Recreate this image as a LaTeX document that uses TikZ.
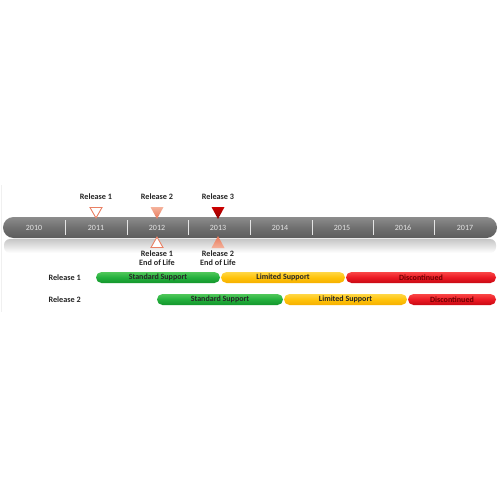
\documentclass[tikz,border=0pt]{standalone}
\usepackage{fontspec}
\setmainfont{Carlito}
\begin{document}
\begin{tikzpicture}[x=1pt,y=-1pt,
  lbl/.style={font=\bfseries\fontsize{8.2}{8.8}\selectfont, text=black!85, inner sep=0pt, align=center},
  yr/.style={font=\fontsize{8}{9}\selectfont, text=white!90!black, inner sep=0pt},
  seg/.style={font=\bfseries\fontsize{8}{8.5}\selectfont, inner sep=0pt},
  sep/.style={draw=white!80!gray, line width=0.6pt},
  greenbar/.style={top color={rgb,255:red,80;green,200;blue,90}, bottom color={rgb,255:red,20;green,150;blue,45}, middle color={rgb,255:red,35;green,175;blue,60}},
  yellowbar/.style={top color={rgb,255:red,255;green,215;blue,70}, bottom color={rgb,255:red,245;green,175;blue,0}, middle color={rgb,255:red,255;green,195;blue,10}},
  redbar/.style={top color={rgb,255:red,250;green,70;blue,70}, bottom color={rgb,255:red,200;green,10;blue,20}, middle color={rgb,255:red,235;green,25;blue,35}},
]
\definecolor{salmonL}{RGB}{245,178,155}
\definecolor{salmonD}{RGB}{230,120,90}
\definecolor{salmonE}{RGB}{233,128,100}
\definecolor{darkred}{RGB}{110,0,0}
\definecolor{barT}{RGB}{140,140,140}
\definecolor{barM}{RGB}{112,112,112}
\definecolor{barB}{RGB}{92,92,92}
\useasboundingbox[fill=white] (0,0) rectangle (500,500);
% faint frame line
\draw[gray!12, line width=0.6pt] (1,185) -- (1,312);
% reflection
\shade[top color=gray!45, bottom color=white, rounded corners=6pt] (4,239) rectangle (496,253);
% bar
\shade[top color=barT, bottom color=barB, middle color=barM, rounded corners=10.5pt] (3,217) rectangle (497,238);
\foreach \x in {65,127,188,250,312,373,434} \draw[sep] (\x,220) -- (\x,235);
\foreach \x/\y in {34/2010,96/2011,157/2012,218/2013,280/2014,342/2015,403/2016,465/2017}
  \node[yr] (y\y) at (\x,228) {\y};
% top markers
\node[lbl] (r1) at (96,197) {Release 1};
\node[lbl] (r2) at (157,197) {Release 2};
\node[lbl] (r3) at (218,197) {Release 3};
\draw[salmonE, line width=0.9pt, fill=white, line join=miter] (90,207.5) -- (102,207.5) -- (96,218) -- cycle;
\shade[top color=salmonL, bottom color=salmonD] (150.5,207) -- (163.5,207) -- (157,219) -- cycle;
\shade[top color=red!80!black, bottom color=red!55!black] (211.5,207) -- (224.5,207) -- (218,219) -- cycle;
% bottom markers
\draw[salmonE, line width=0.9pt, fill=white, line join=miter] (157,237) -- (163,247.5) -- (151,247.5) -- cycle;
\shade[top color=salmonD, bottom color=salmonL] (218,236) -- (224.5,248) -- (211.5,248) -- cycle;
\node[lbl] (e1) at (157,258) {Release 1\\End of Life};
\node[lbl] (e2) at (218,258) {Release 2\\End of Life};
% rows
\node[lbl, anchor=east] (row1) at (81,277.5) {Release 1};
\node[lbl, anchor=east] (row2) at (81,299.5) {Release 2};
% release 1 bars
\shade[greenbar, rounded corners=5.5pt] (96,272) rectangle (220,283);
\shade[yellowbar, rounded corners=5.5pt] (221,272) rectangle (345,283);
\shade[redbar, rounded corners=5.5pt] (346,272) rectangle (496,283);
\node[seg, text=black!85] (s1) at (158,277.5) {Standard Support};
\node[seg, text=black!85] (l1) at (283,277.5) {Limited Support};
\node[seg, text=darkred] (d1) at (421,277.5) {Discontinued};
% release 2 bars
\shade[greenbar, rounded corners=5.5pt] (157,294) rectangle (283,305);
\shade[yellowbar, rounded corners=5.5pt] (284,294) rectangle (407,305);
\shade[redbar, rounded corners=5.5pt] (408,294) rectangle (496,305);
\node[seg, text=black!85] (s2) at (220,299.5) {Standard Support};
\node[seg, text=black!85] (l2) at (345.5,299.5) {Limited Support};
\node[seg, text=darkred] (d2) at (452,299.5) {Discontinued};
\end{tikzpicture}
\end{document}
